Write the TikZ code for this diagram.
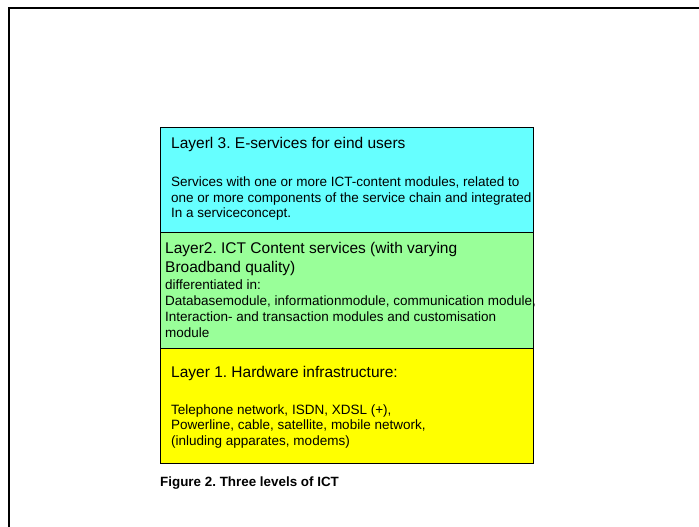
\documentclass[tikz,border=0pt]{standalone}
\usepackage{fontspec}
\setmainfont{Liberation Sans}
\frenchspacing

\definecolor{layercyan}{RGB}{102,255,255}
\definecolor{layergreen}{RGB}{153,255,153}
\definecolor{layeryellow}{RGB}{255,255,0}

\tikzset{
  layerbox/.style={draw=black, line width=0.8pt, rectangle, inner sep=0pt, outer sep=0pt, minimum width=373pt, anchor=north west},
  layertitle/.style={anchor=base west, inner sep=0pt, align=left, font=\fontsize{15.5}{19.4}\selectfont},
  layertext/.style={anchor=base west, inner sep=0pt, align=left, font=\fontsize{13.5}{15.5}\selectfont}
}

\begin{document}
\begin{tikzpicture}[x=1pt, y=-1pt]
  \useasboundingbox (0,0) rectangle (699,527);

  % Page frame (only top and left edges visible)
  \draw[line width=2pt] (9,527) -- (9,8) -- (699,8);

  % The three layer blocks
  \node[layerbox, fill=layercyan, minimum height=105pt] (layerthree) at (160,127) {};
  \node[layerbox, fill=layergreen, minimum height=116pt] (layertwo) at (160,232) {};
  \node[layerbox, fill=layeryellow, minimum height=115pt] (layerone) at (160,348) {};

  % Layer 3 texts (base = baseline of last line)
  \node[layertitle] (titlethree) at (171,148.3) {Layerl 3. E-services for eind users};
  \node[layertext] (textthree) at (171,217.5) {Services with one or more ICT-content modules, related to\\ one or more components of the service chain and integrated\\ In a serviceconcept.};

  % Layer 2 texts
  \node[layertitle] (titletwo) at (165,272.7) {Layer2. ICT Content services (with varying\\ Broadband quality)};
  \node[layertext, font=\fontsize{13.5}{16.1}\selectfont] (texttwo) at (165,337.3) {differentiated in:\\ Databasemodule, informationmodule, communication module,\\ Interaction- and transaction modules and customisation\\ module};

  % Layer 1 texts
  \node[layertitle] (titleone) at (171,377.3) {Layer 1. Hardware infrastructure:};
  \node[layertext] (textone) at (171,445) {Telephone network, ISDN, XDSL (+),\\ Powerline, cable, satellite, mobile network,\\ (inluding apparates, modems)};

  % Caption
  \node[anchor=base west, inner sep=0pt, font=\fontsize{13.4}{16}\selectfont\bfseries] (caption) at (160,486) {Figure 2. Three levels of ICT};
\end{tikzpicture}
\end{document}
